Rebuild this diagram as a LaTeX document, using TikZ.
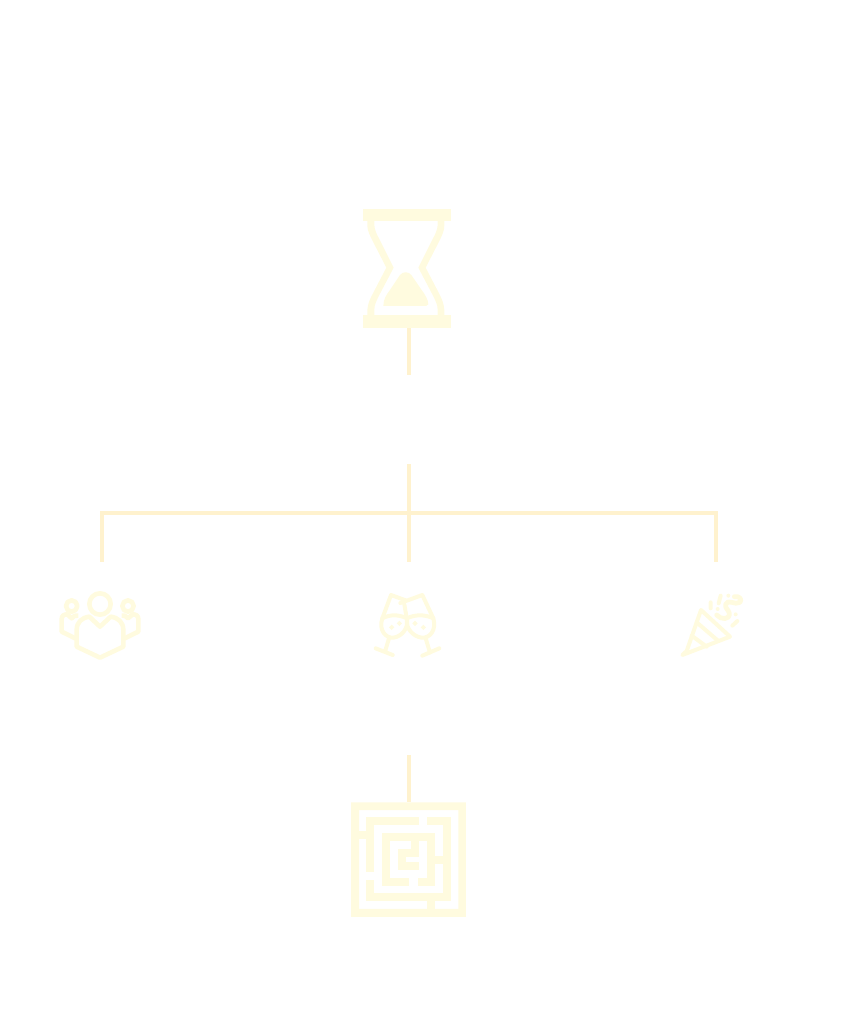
\documentclass[tikz,border=0pt]{standalone}
\definecolor{iconyellow}{HTML}{FFFBDF}
\definecolor{linecream}{HTML}{FFF2CE}
\tikzset{
  link/.style={draw=linecream,line width=3.6pt,line cap=butt,line join=miter},
  icon/.style={draw=iconyellow,line width=4.6pt,line cap=butt,line join=round},
  thin icon/.style={draw=iconyellow,line width=4pt,line cap=round,line join=round},
  zoomed/.style={x=0.3333pt,y=-0.3333pt},
}
\begin{document}
\begin{tikzpicture}[x=1pt,y=-1pt]
\useasboundingbox (0,0) rectangle (855,1032);
% named anchors for the connectors
\coordinate (glassbottom) at (409,327.7);
\coordinate (stub1) at (409,375);
\coordinate (stub2) at (409,464);
\coordinate (junction) at (409,513);
\coordinate (midend) at (409,561.5);
\coordinate (leftend) at (102,561.5);
\coordinate (rightend) at (716,561.5);
\coordinate (cornerL) at (102,513);
\coordinate (cornerR) at (716,513);
\coordinate (stub3) at (409,755);
\coordinate (mazetop) at (409,802.3);
\draw[link] (glassbottom) -- (stub1);
\draw[link] (stub2) -- (midend);
\draw[link] (leftend) -- (cornerL) -- (cornerR) -- (rightend);
\draw[link] (stub3) -- (mazetop);
% hourglass
\begin{scope}[shift={(340pt,-195pt)},zoomed]
\fill[iconyellow] (70,42) rectangle (332,77);
\fill[iconyellow] (70,360) rectangle (332,398);
\fill[iconyellow] (82,77) -- (103,77) -- (103,90) .. controls (104,105) and (110,118) .. (118,132) -- (161,218) -- (118,300) .. controls (109,318) and (103,330) .. (103,345) -- (103,360) -- (82,360) -- (82,345) .. controls (83,325) and (92,308) .. (100,293) -- (139,218) -- (100,142) .. controls (90,122) and (82,108) .. (82,92) -- cycle;
\fill[iconyellow] (313,77) -- (293,77) -- (293,90) .. controls (292,105) and (286,118) .. (278,132) -- (235,218) -- (278,300) .. controls (287,318) and (293,330) .. (293,345) -- (293,360) -- (313,360) -- (313,345) .. controls (312,325) and (304,308) .. (296,293) -- (257,218) -- (296,142) .. controls (306,122) and (313,108) .. (313,92) -- cycle;
\fill[iconyellow] (130,333) .. controls (130,312) and (140,298) .. (150,285) -- (180,240) .. controls (188,229) and (206,229) .. (214,240) -- (245,285) .. controls (255,298) and (265,315) .. (265,328) .. controls (262,333) and (258,333) .. (250,333) -- cycle;
\end{scope}
% maze
\begin{scope}[shift={(340pt,-790pt)},zoomed]
\fill[iconyellow,even odd rule] (33,37) rectangle (378,381) (57,60) rectangle (355,357);
\foreach \xa/\ya/\xb/\yb in {
 57/123/80/146, 79/81/103/245, 79/81/237/105, 262/81/332/105, 308/81/332/334,
 284/198/308/222, 127/129/284/153, 127/129/151/287, 127/263/207/287,
 260/129/284/287, 235/263/284/287, 79/310/332/334, 79/270/103/334,
 262/334/285/357, 174/177/198/240, 174/177/238/200, 214/153/238/200, 174/216/238/240}
 \fill[iconyellow] (\xa,\ya) rectangle (\xb,\yb);
\end{scope}
% team
\begin{scope}[shift={(50pt,-585pt)},zoomed]
\draw[icon] (150,57) circle [radius=32];
\draw[icon] (65,63) circle [radius=17];
\draw[icon] (234,63) circle [radius=17];
\draw[icon] (150,125) -- (118,95) .. controls (95,98) and (80,112) .. (80,135) -- (80,185) -- (150,218) -- (220,185) -- (220,135) .. controls (220,112) and (205,98) .. (182,95) -- cycle;
\draw[icon] (85,92) .. controls (78,90) and (72,92) .. (65,100) -- (52,88) .. controls (42,88) and (35,92) .. (35,102) -- (35,140) -- (80,162);
\draw[icon] (215,92) .. controls (222,90) and (228,92) .. (234,100) -- (248,88) .. controls (258,88) and (265,92) .. (265,102) -- (265,140) -- (220,162);
\end{scope}
% glasses
\begin{scope}[shift={(365pt,-585pt)},zoomed]
\draw[thin icon] (78,30) -- (122,46) (78,30) -- (52,100) .. controls (40,135) and (62,160) .. (85,158) .. controls (110,155) and (130,130) .. (126,105) -- (118,58);
\draw[thin icon] (172,30) -- (106,54) (172,30) -- (205,100) .. controls (215,135) and (195,160) .. (170,158) .. controls (145,155) and (122,130) .. (126,105);
\draw[thin icon] (52,100) .. controls (75,88) and (100,88) .. (126,100) .. controls (150,88) and (180,88) .. (205,100);
\draw[thin icon] (72,160) -- (60,200) (32,190) -- (83,210);
\draw[thin icon] (182,160) -- (195,203) (172,212) -- (223,190);
\foreach \p in {(80,127),(103,115),(150,115),(175,127)}
 \fill[iconyellow] \p +(-8,0) -- +(0,-8) -- +(8,0) -- +(0,8) -- cycle;
\end{scope}
% popper
\begin{scope}[shift={(675pt,-585pt)},zoomed]
\draw[thin icon] (22,210) -- (35,198) -- (78,75) -- (165,155) -- cycle;
\draw[thin icon] (65,112) -- (130,168) (50,152) -- (95,185);
\draw[thin icon,line width=4.8pt] (125,90) .. controls (138,105) and (165,105) .. (163,85) .. controls (160,72) and (150,72) .. (152,58) .. controls (158,40) and (180,62) .. (195,52) .. controls (202,42) and (192,32) .. (178,35);
\draw[thin icon] (107,52) -- (107,70) (137,32) -- (131,55) (172,122) -- (187,108);
\fill[iconyellow] (128,72) circle [radius=6] (182,88) circle [radius=6] (160,32) circle [radius=6];
\end{scope}
\end{tikzpicture}
\end{document}
